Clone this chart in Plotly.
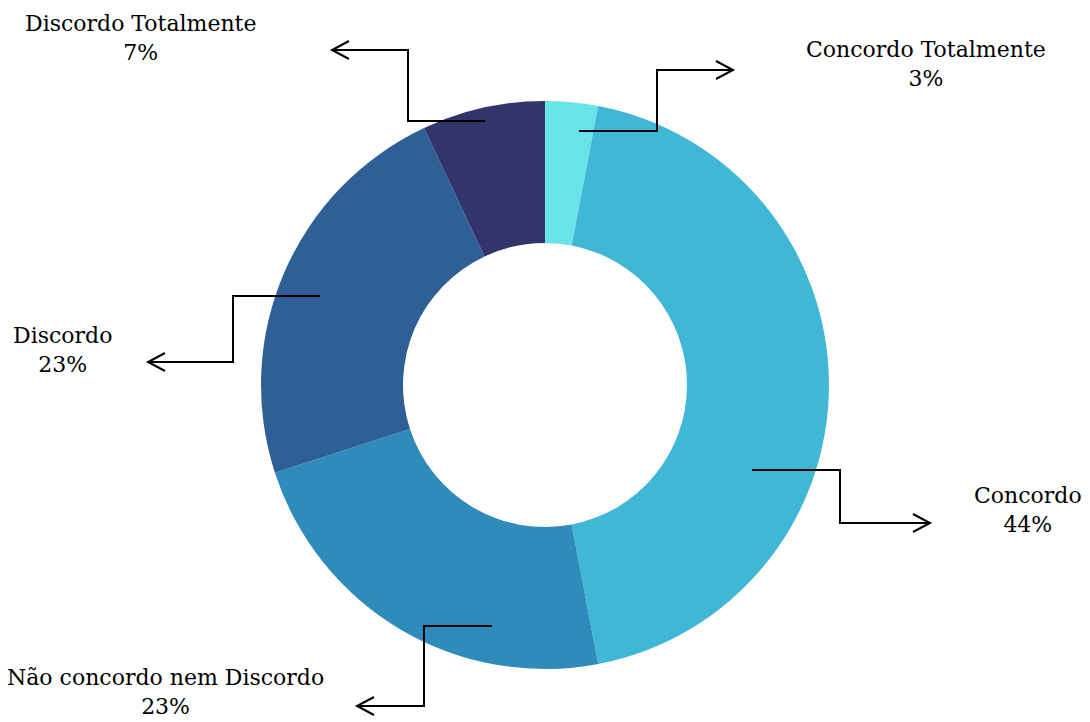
import plotly.graph_objects as go

# Survey responses (percent)
labels = ["Concordo Totalmente", "Concordo", "Não concordo nem Discordo",
          "Discordo", "Discordo Totalmente"]
values = [3, 44, 23, 23, 7]
colors = ["#68E3E7", "#41B7D6", "#2E8BBA", "#2E5F97", "#31356B"]

W, H = 1090, 722

# Callout layout in pixel space: label centre and elbow connector points
# (first point on the ring, last point is the arrow tip)
callouts = [
    {"text_xy": (926, 64), "path": [(579, 131), (657, 131), (657, 70), (733, 70)]},
    {"text_xy": (1028, 510), "path": [(752, 470), (840, 470), (840, 523), (930, 523)]},
    {"text_xy": (165, 692), "path": [(492, 626), (424, 626), (424, 706), (357, 706)]},
    {"text_xy": (62, 350), "path": [(320, 296), (233, 296), (233, 362), (148, 362)]},
    {"text_xy": (140, 38), "path": [(485, 121), (408, 121), (408, 50), (332, 50)]},
]


def px(x, y):
    return x / W, 1 - y / H


fig = go.Figure(go.Pie(
    labels=labels,
    values=values,
    marker=dict(colors=colors, line=dict(width=0)),
    hole=0.5,
    sort=False,
    direction="clockwise",
    rotation=0,
    textinfo="none",
    hoverinfo="label+percent",
    showlegend=False,
    domain=dict(x=[0, 1], y=[53 / H, 1 - 101 / H]),
))

shapes = []
annotations = []
for lab, val, c in zip(labels, values, callouts):
    pts = c["path"]
    d = "M " + " L ".join(f"{px(x, y)[0]:.5f},{px(x, y)[1]:.5f}" for x, y in pts)
    shapes.append(dict(type="path", xref="paper", yref="paper", path=d,
                       line=dict(color="black", width=2)))
    # open arrowhead at the tip
    (x1, y1), (x2, y2) = pts[-2], pts[-1]
    sgn = 1 if x2 > x1 else -1
    head = [(x2 - sgn * 17, y2 - 9), (x2, y2), (x2 - sgn * 17, y2 + 9)]
    dh = "M " + " L ".join(f"{px(x, y)[0]:.5f},{px(x, y)[1]:.5f}" for x, y in head)
    shapes.append(dict(type="path", xref="paper", yref="paper", path=dh,
                       line=dict(color="black", width=2)))
    tx, ty = px(*c["text_xy"])
    annotations.append(dict(
        x=tx, y=ty, xref="paper", yref="paper", showarrow=False,
        xanchor="center", yanchor="middle", align="center",
        text=f"{lab}<br>{val}%",
        font=dict(family="DejaVu Serif", size=22, color="black"),
    ))

fig.update_layout(
    width=W, height=H,
    margin=dict(l=0, r=0, t=0, b=0),
    paper_bgcolor="white",
    plot_bgcolor="white",
    shapes=shapes,
    annotations=annotations,
)

fig.write_html("out.html")
